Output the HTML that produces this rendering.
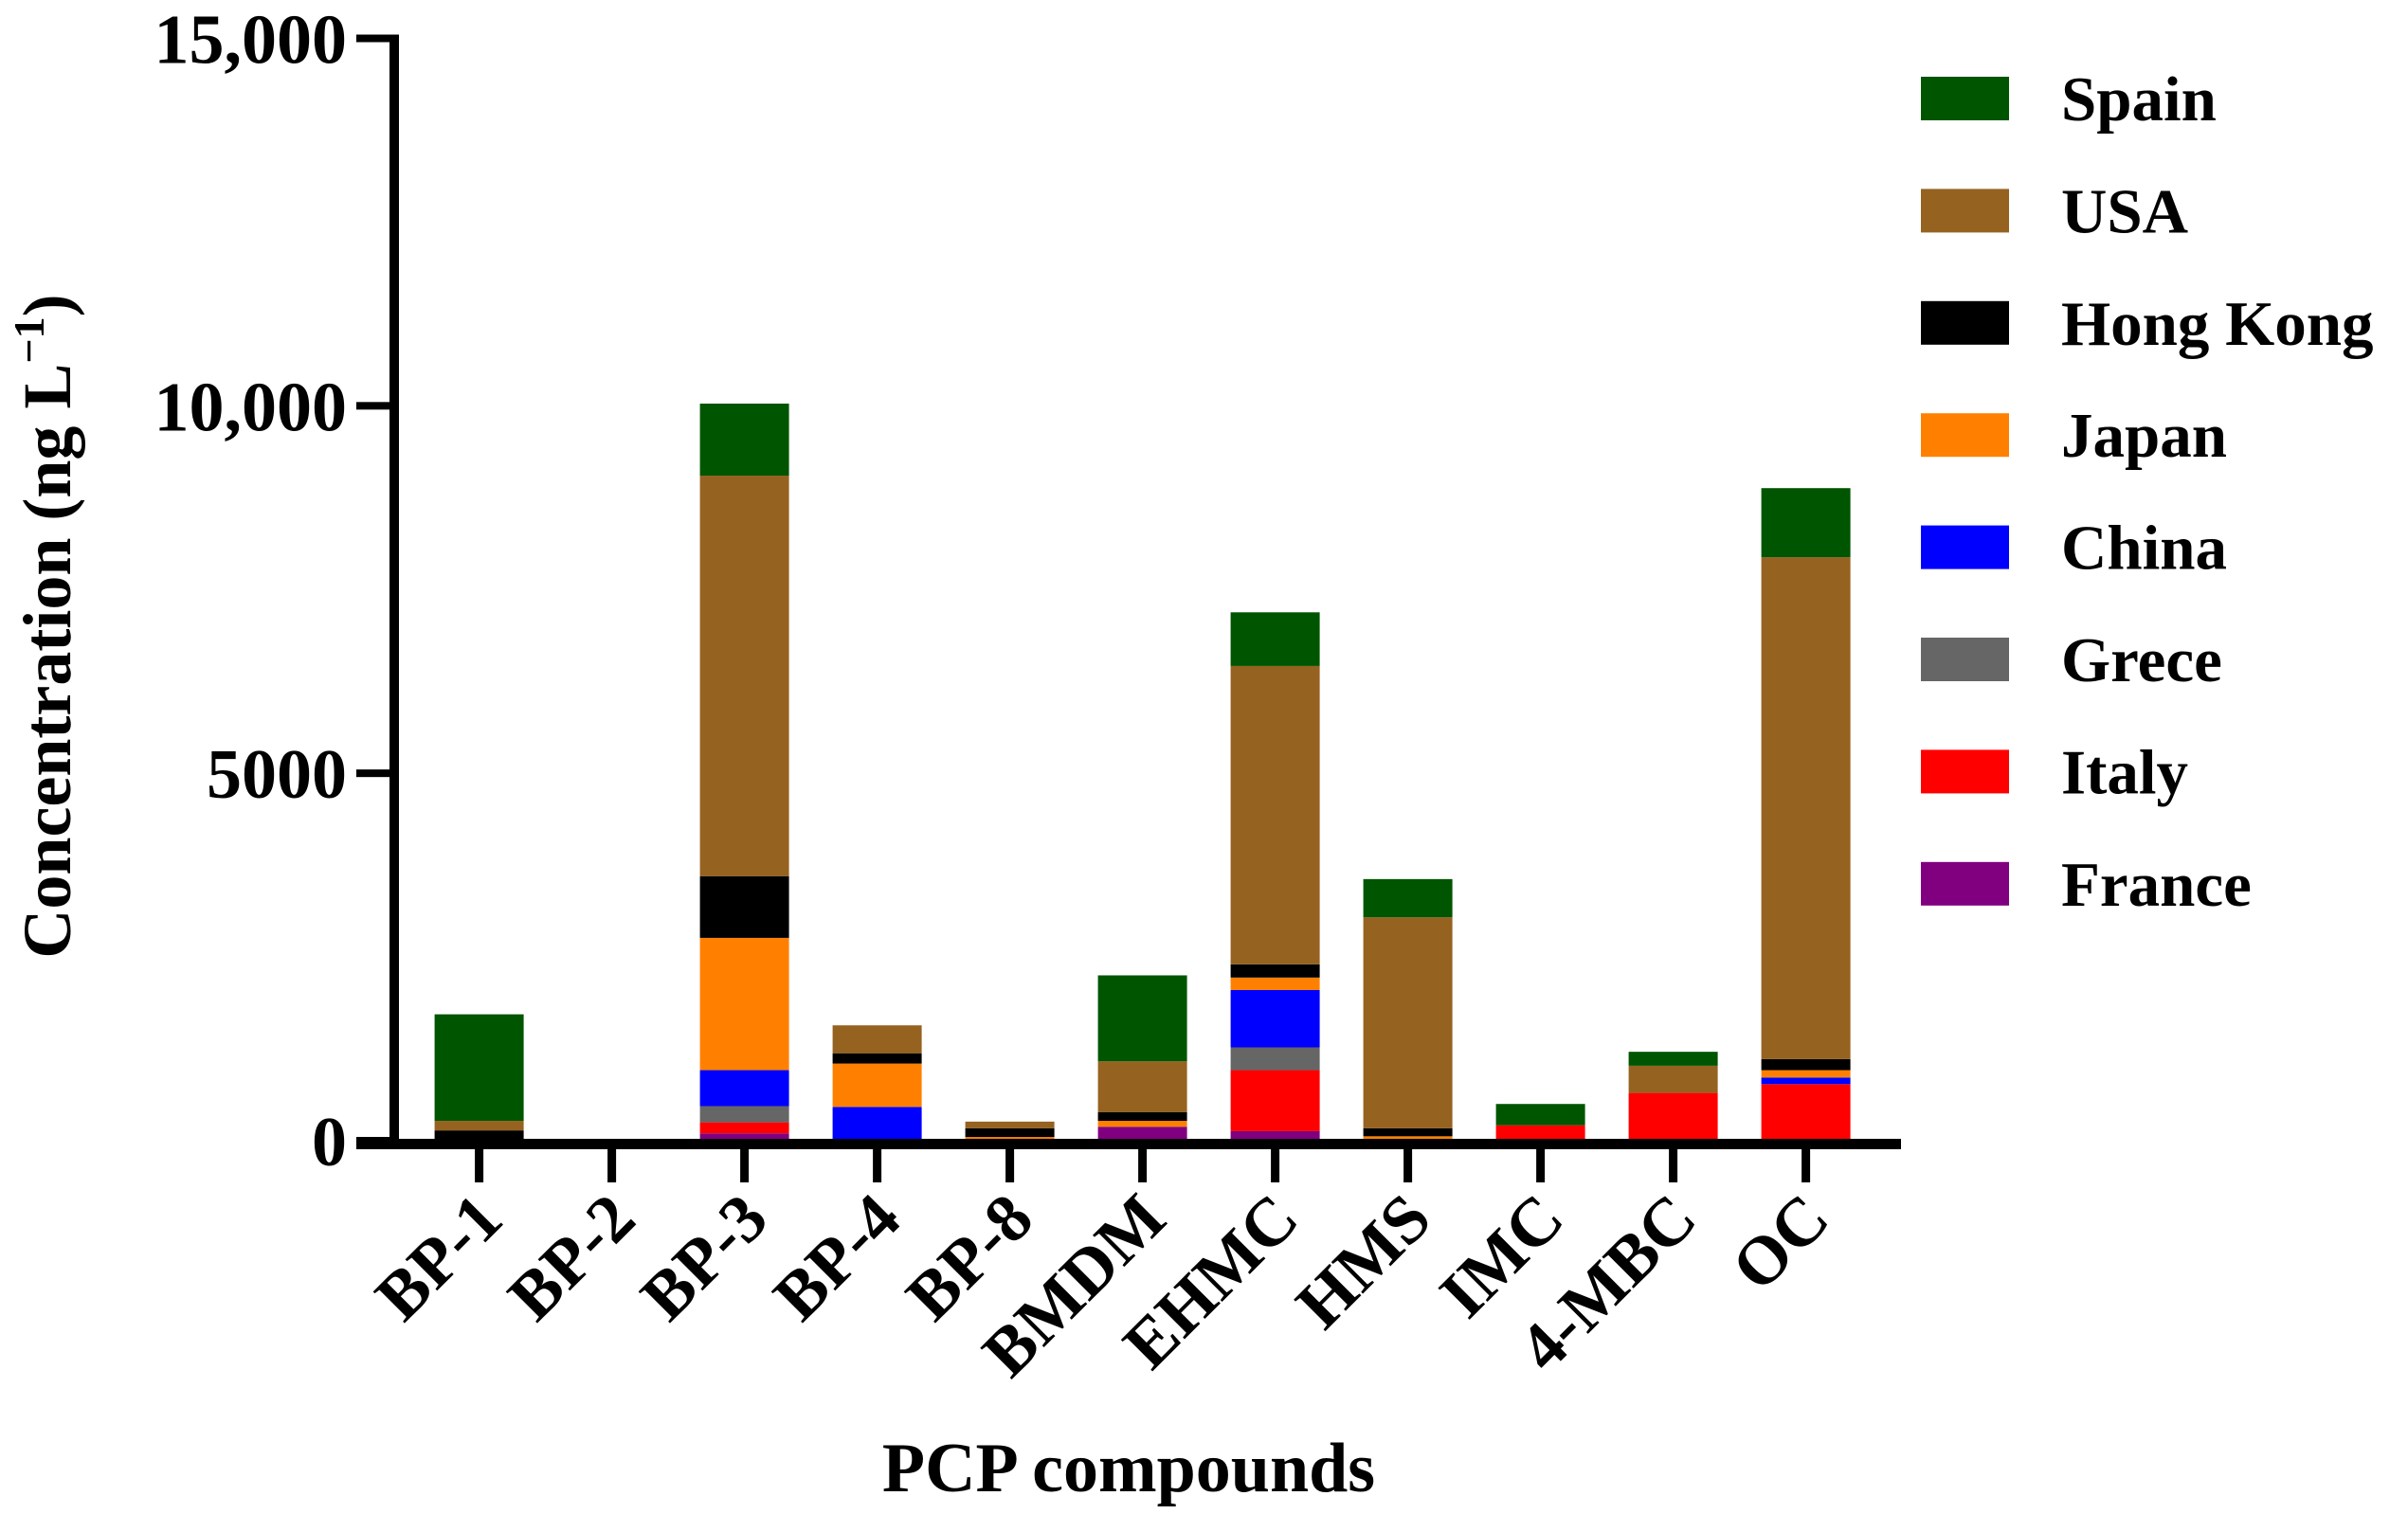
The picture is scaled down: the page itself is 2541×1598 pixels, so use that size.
<!DOCTYPE html>
<html><head><meta charset="utf-8"><style>
html,body{margin:0;padding:0;background:#fff;}
svg{display:block;}
text{font-family:"Liberation Serif",serif;font-weight:bold;fill:#000;}
</style></head><body>
<svg id="chart" width="2541" height="1598" viewBox="0 0 2541 1598" xmlns="http://www.w3.org/2000/svg">
<g id="bars"></g>
<g id="axes"></g>
<g id="legend"></g>
<text transform="translate(74,661) rotate(-90)" text-anchor="middle" font-size="72">Concentration (ng L<tspan font-size="46" dy="-28">−1</tspan><tspan dy="28">)</tspan></text>
<text x="1191" y="1574" text-anchor="middle" font-size="74">PCP compounds</text>
</svg>
<script>
const categories = ["BP-1","BP-2","BP-3","BP-4","BP-8","BMDM","EHMC","HMS","IMC","4-MBC","OC"];
const seriesNames = ["France","Italy","Grece","China","Japan","Hong Kong","USA","Spain"];
const seriesColors = ["#800080","#ff0000","#666666","#0000ff","#ff8000","#000000","#956220","#005500"];
const france   = [0,0,100,0,0,190,130,0,0,0,0];
const italy    = [0,0,150,0,0,0,830,0,210,650,770];
const grece    = [0,0,220,0,0,0,310,0,0,0,0];
const china    = [0,0,490,460,0,0,780,0,0,0,90];
const japan    = [20,0,1800,590,50,80,170,60,0,0,100];
const hongKong = [120,0,840,140,120,120,180,110,0,0,150];
const usa      = [130,0,5450,380,90,690,4060,2870,0,370,6830];
const spain    = [1450,0,980,0,0,1170,730,520,290,190,940];
const series = [france,italy,grece,china,japan,hongKong,usa,spain];
const yTicks = [0,5000,10000,15000];
const yTickLabels = ["0","5000","10,000","15,000"];

const NS="http://www.w3.org/2000/svg";
const y0=1204, yTop=40.5, yMax=15000;
function yScale(v){return y0-(v/yMax)*(y0-yTop);}
const x0=505.6, step=140, barW=94;
function xScale(i){return x0+i*step;}
function mk(tag,attrs,parent){const e=document.createElementNS(NS,tag);for(const k in attrs)e.setAttribute(k,attrs[k]);parent.appendChild(e);return e;}
const bars=document.getElementById('bars'), axes=document.getElementById('axes'), legend=document.getElementById('legend');

categories.forEach((c,i)=>{
  let acc=0;
  series.forEach((s,j)=>{
    const v=s[i]; if(v<=0) return;
    const yA=yScale(acc), yB=yScale(acc+v);
    const r=mk('rect',{x:xScale(i)-barW/2,y:yB,width:barW,height:yA-yB,fill:seriesColors[j]},bars);
    
    
    acc+=v;
  });
});

const yl=mk('rect',{x:411,y:yScale(15000)-4,width:10,height:y0-yScale(15000)+8,fill:'#000'},axes);


const xl=mk('rect',{x:376,y:1202,width:1630,height:11,fill:'#000'},axes);


yTicks.forEach((t,k)=>{
  const tk=mk('rect',{x:376,y:yScale(t)-4,width:40,height:8,fill:'#000'},axes);
  
  
  const tl=mk('text',{x:366,y:yScale(t)+26,'text-anchor':'end','font-size':74},axes);
  tl.textContent=yTickLabels[k];
  
  
});
categories.forEach((c,i)=>{
  const tk=mk('rect',{x:xScale(i)-4.5,y:1210,width:9,height:38,fill:'#000'},axes);
  
  
  const tl=mk('text',{'text-anchor':'end','font-size':72,transform:'translate('+(xScale(i)+28)+',1290) rotate(-45)'},axes);
  tl.textContent=c;
  
  
});

for(let j=seriesNames.length-1,k=0;j>=0;j--,k++){
  const cy=104+k*118.4;
  const sw=mk('rect',{x:2027,y:cy-23,width:93,height:46,fill:seriesColors[j]},legend);
  
  
  const lt=mk('text',{x:2175,y:cy+23,'font-size':67},legend);
  lt.textContent=seriesNames[j];
  
  
}
</script>
</body></html>
